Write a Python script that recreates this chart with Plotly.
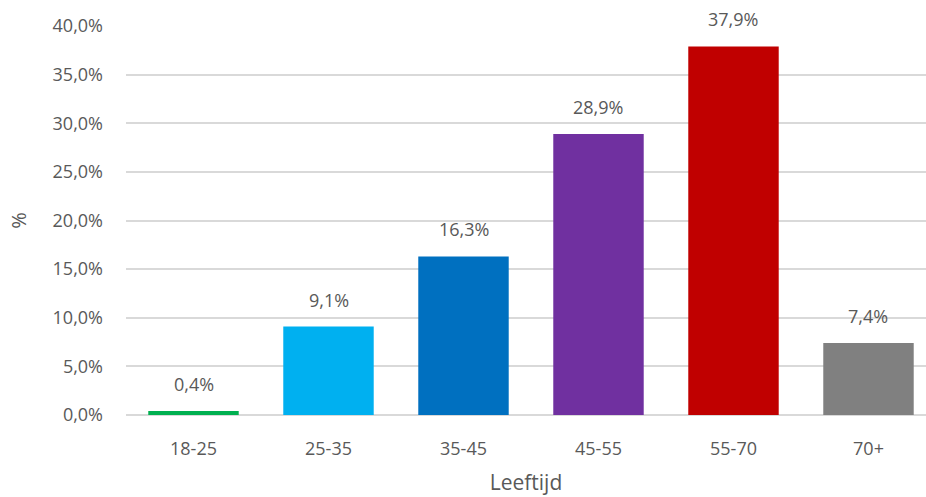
import plotly.graph_objects as go

categories = ["18-25", "25-35", "35-45", "45-55", "55-70", "70+"]
values = [0.4, 9.1, 16.3, 28.9, 37.9, 7.4]
value_labels = ["0,4%", "9,1%", "16,3%", "28,9%", "37,9%", "7,4%"]
colors = ["#00B050", "#00B0F0", "#0070C0", "#7030A0", "#C00000", "#808080"]
y_ticks = [0, 5, 10, 15, 20, 25, 30, 35, 40]
y_tick_labels = ["0,0%", "5,0%", "10,0%", "15,0%", "20,0%", "25,0%", "30,0%", "35,0%", "40,0%"]

FONT = "Open Sans"
GREY = "#595959"

fig = go.Figure(go.Bar(
    x=categories, y=values,
    marker=dict(color=colors, line=dict(width=0)),
    width=0.67,
    hoverinfo="x+y",
))

for c, v, t in zip(categories, values, value_labels):
    fig.add_annotation(
        x=c, y=v, text=t, showarrow=False,
        yanchor="bottom", yshift=13,
        font=dict(family=FONT, size=18, color=GREY),
    )

fig.update_layout(
    width=926, height=497,
    margin=dict(l=126, r=0, t=26, b=82),
    paper_bgcolor="white", plot_bgcolor="white",
    showlegend=False,
    font=dict(family=FONT, color=GREY),
    xaxis=dict(
        range=[-0.5, 5.426],
        showgrid=False, showline=False, zeroline=False,
        ticks="", ticklabelstandoff=21,
        tickfont=dict(family=FONT, size=18, color=GREY),
        title=dict(text="Leeftijd", font=dict(family=FONT, size=21, color=GREY), standoff=16),
    ),
    yaxis=dict(
        range=[0, 40],
        tickvals=y_ticks, ticktext=y_tick_labels,
        showgrid=True, gridcolor="#D9D9D9", gridwidth=1.5,
        zeroline=True, zerolinecolor="#D9D9D9", zerolinewidth=1.5,
        showline=False, ticks="", ticklabelstandoff=22,
        tickfont=dict(family=FONT, size=18, color=GREY),
        title=dict(text="%", font=dict(family=FONT, size=20, color=GREY), standoff=20),
    ),
)

fig.write_html("out.html", config={"displayModeBar": False},
               post_script="document.body.style.margin='0';")
